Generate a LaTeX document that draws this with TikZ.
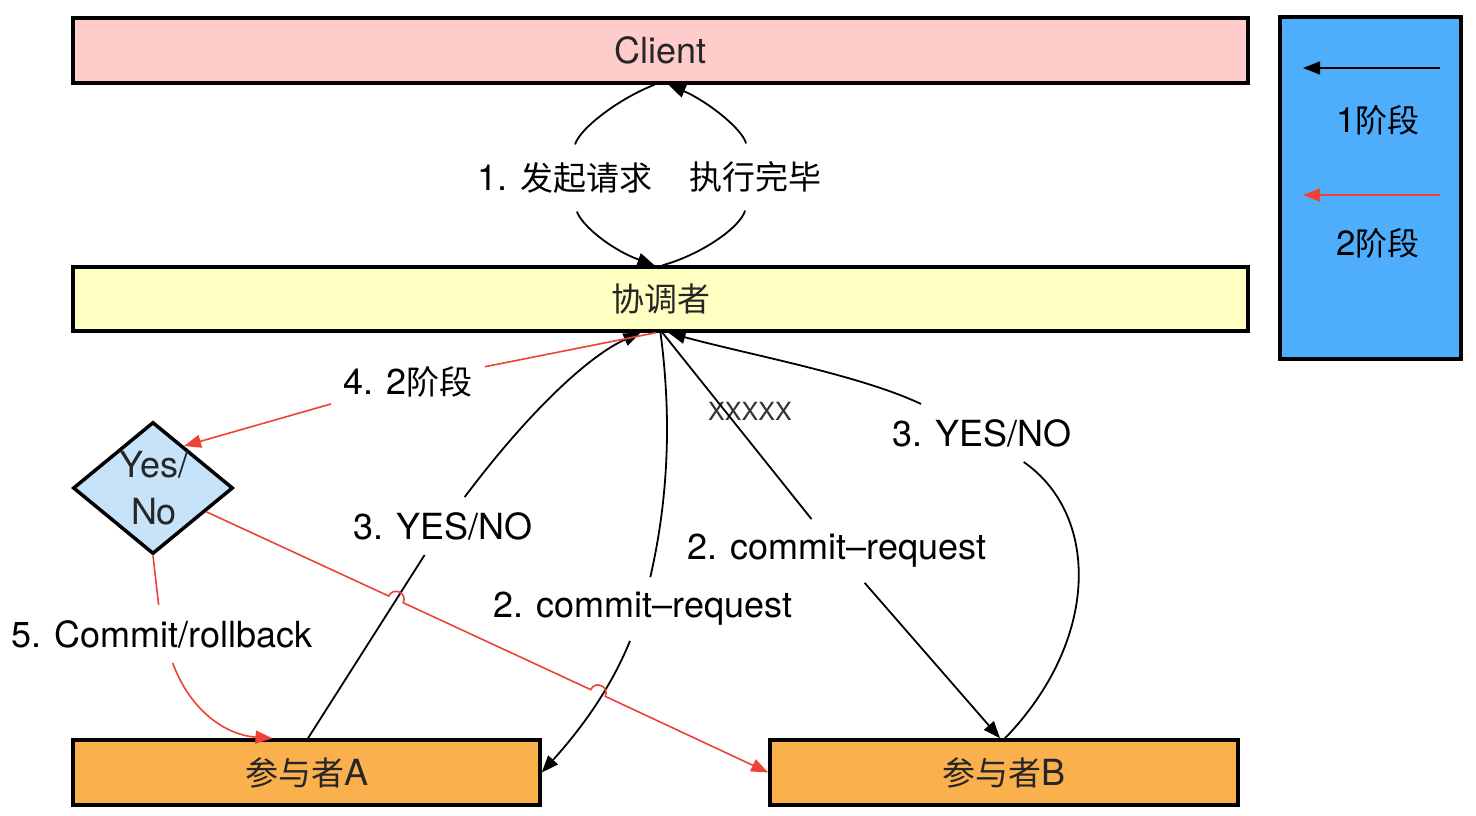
\documentclass[tikz,border=0pt]{standalone}
\usepackage{fontspec}
\setmainfont{TeX Gyre Heros}[Scale=1.09]
\newfontfamily\cjk{Noto Sans CJK SC}
\newcommand{\zh}[1]{{\cjk #1}}
\usetikzlibrary{arrows.meta,shapes.geometric,calc}
\definecolor{clientpink}{HTML}{FFCCCC}
\definecolor{coordyellow}{HTML}{FFFFC2}
\definecolor{partorange}{HTML}{FAB04C}
\definecolor{legendblue}{HTML}{4FAEFB}
\definecolor{diablue}{HTML}{C7E3FA}
\definecolor{arrowred}{HTML}{EE4236}
\begin{document}
\begin{tikzpicture}[x=1pt,y=-1pt,
  panel/.style={draw=black, line width=3.5pt, inner sep=0pt, text=black!85, font=\fontsize{33}{40}\selectfont},
  lbl/.style={font=\fontsize{33}{40}\selectfont, inner xsep=12pt, inner ysep=15pt},
  conn/.style={line width=1.8pt, draw=black},
  redconn/.style={line width=1.6pt, draw=arrowred},
  tip/.style={-{Triangle[length=17pt,width=13pt]}},
]
\fill[white] (0,0) rectangle (1476,816);
\useasboundingbox (0,0) rectangle (1476,816);

% boxes
\node[panel, fill=clientpink, minimum width=1175pt, minimum height=65pt] (client) at (660.5,50.5) {Client};
\node[panel, fill=coordyellow, minimum width=1175pt, minimum height=64pt] (xie) at (660.5,299) {\zh{协调者}};
\node[panel, fill=partorange, minimum width=467pt, minimum height=65pt] (pa) at (306.5,772.5) {\zh{参与者}A};
\node[panel, fill=partorange, minimum width=468pt, minimum height=65pt] (pb) at (1004,772.5) {\zh{参与者}B};
\node[panel, fill=legendblue, minimum width=181pt, minimum height=342pt] (leg) at (1370.5,188) {};
\node[draw=black, line width=3.5pt, fill=diablue, shape=diamond, inner sep=0pt,
      minimum width=160pt, minimum height=132pt] (dia) at (153,488) {};
\node[font=\fontsize{33}{47}\selectfont, align=center, text=black!85] (diatxt) at (154,488) {Yes/\\No};

% legend
\coordinate (lg1s) at (1440,68); \coordinate (lg1e) at (1303,68);
\coordinate (lg2s) at (1440,195); \coordinate (lg2e) at (1303,195);
\draw[conn, line width=1.5pt, tip] (lg1s) -- (lg1e);
\draw[redconn, line width=1.5pt, tip] (lg2s) -- (lg2e);
\node[font=\fontsize{32}{38}\selectfont] (lgt1) at (1378,120) {1\zh{阶段}};
\node[font=\fontsize{32}{38}\selectfont] (lgt2) at (1378,243) {2\zh{阶段}};

% labels
\node[lbl, inner ysep=18pt, inner xsep=6pt] (l1) at (565,178) {1. \zh{发起请求}};
\node[lbl, inner ysep=18pt, inner xsep=6pt] (l1b) at (755,177) {\zh{执行完毕}};
\node[lbl] (l4) at (408,382) {4. 2\zh{阶段}};
\node[lbl] (la3) at (443,526) {3. YES/NO};
\node[lbl] (lb3) at (982,433) {3. YES/NO};
\node[lbl] (lc2u) at (837,551) {2. commit--request};
\node[lbl] (lc2) at (643,609) {2. commit--request};
\node[lbl] (l5) at (162,634) {5. Commit/rollback};
\node[font=\fontsize{23}{28}\selectfont, text=black!80] (xx) at (750,411) {XXXXX};

% top connectors
\draw[conn] ([xshift=-6pt]client.south) .. controls (620,98) and (580,128) .. (l1);
\draw[conn, tip] (l1) .. controls (582,226) and (612,250) .. ([xshift=-6pt]xie.north);
\draw[conn] ([xshift=2pt]xie.north) .. controls (700,255) and (740,228) .. (l1b);
\draw[conn, tip] (l1b) .. controls (742,128) and (705,100) .. ([xshift=8pt]client.south);

% coordinator -> participants / back
\draw[conn] ([xshift=1.5pt]pa.north) -- (la3);
\draw[conn, tip] (la3) .. controls (530,410) and (590,355) .. ([xshift=-20pt]xie.south);
\draw[conn] ([xshift=0pt]xie.south) .. controls (672,420) and (668,500) .. (lc2);
\draw[conn, tip] (lc2) .. controls (610,690) and (580,730) .. (pa.east);
\draw[conn] ([xshift=2pt]xie.south) -- (lc2u);
\draw[conn, tip] (lc2u) -- ([xshift=-4pt]pb.north);
\draw[conn] ([xshift=1pt]pb.north) .. controls (1100,640) and (1100,515) .. (lb3);
\draw[conn, tip] (lb3) .. controls (860,375) and (750,355) .. ([xshift=8pt]xie.south);

% phase 2 (red)
\draw[redconn] ([xshift=-5pt]xie.south) -- (l4);
\draw[redconn, tip] (l4) -- ($(dia.north)!0.38!(dia.east)$);
\draw[redconn] (dia.south) -- (l5);
\draw[redconn, tip] (l5) .. controls (190,710) and (225,735) .. ([xshift=-34pt]pa.north);
\draw[redconn, tip] ($(dia.east)!0.35!(dia.south)$) -- (388.74,596.04)
   .. controls (393.23,586.33) and (407.75,593.05) .. (403.26,602.76)
   -- (590.74,689.64)
   .. controls (595.23,679.93) and (609.75,686.65) .. (605.26,696.36)
   -- (pb.west);
\end{tikzpicture}
\end{document}
